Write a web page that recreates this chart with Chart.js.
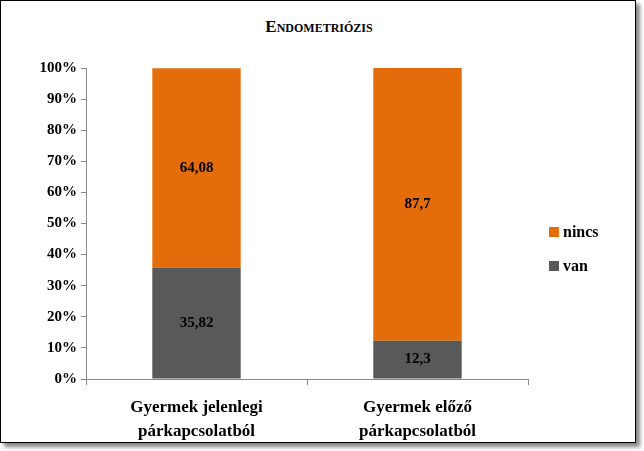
<!DOCTYPE html>
<html><head><meta charset="utf-8">
<script src="https://cdn.jsdelivr.net/npm/chart.js@4"></script>
<style>
body{margin:0;background:#fff;}
#box{position:absolute;left:0;top:0;width:636px;height:443px;border:1px solid #000;box-sizing:border-box;box-shadow:4px 4px 4px #888;background:#fff;}
#title{position:absolute;left:0;width:636px;top:16px;text-align:center;font-family:'Liberation Serif',serif;font-weight:bold;font-size:17px;font-variant:small-caps;}
canvas{position:absolute;left:0;top:0;}
.lg{position:absolute;left:548px;font-family:'Liberation Serif',serif;font-weight:bold;font-size:16px;}
.lg span{display:inline-block;width:10px;height:10px;margin-right:4px;}
</style></head><body>
<div id="box">
<div id="title">Endometriózis</div>
<canvas id="c" width="636" height="443" style="width:636px;height:443px"></canvas>
<div class="lg" style="top:222px"><span style="background:#E46C0A"></span>nincs</div>
<div class="lg" style="top:256px"><span style="background:#595959"></span>van</div>
</div>
<script>
const categories=[['Gyermek jelenlegi','párkapcsolatból'],['Gyermek előző','párkapcsolatból']];
const van=[35.82,12.3];
const nincs=[64.08,87.7];
const yTicks=[0,10,20,30,40,50,60,70,80,90,100];
const F='"Liberation Serif"';
const capsPlugin={id:'caps',
 beforeDraw(c){c.ctx.fontVariantCaps='small-caps';},
 afterDatasetsDraw(c){
  const ctx=c.ctx;ctx.save();ctx.fontVariantCaps='normal';
  ctx.font='bold 15px '+F;ctx.fillStyle='#000';ctx.textAlign='center';ctx.textBaseline='middle';
  c.data.datasets.forEach((ds,i)=>{c.getDatasetMeta(i).data.forEach((b,j)=>{
    const y=(b.y+b.base)/2;ctx.fillText(String(ds.data[j]).replace('.',','),b.x,y);});});
  ctx.restore();}
};
new Chart(document.getElementById('c'),{type:'bar',
 data:{labels:categories,datasets:[
  {label:'van',data:van,backgroundColor:'#595959'},
  {label:'nincs',data:nincs,backgroundColor:'#E46C0A'}]},
 options:{responsive:false,animation:false,devicePixelRatio:1,
  barPercentage:0.4,categoryPercentage:1,
  layout:{padding:{left:0,top:67,right:109,bottom:0}},
  plugins:{legend:{display:false},tooltip:{enabled:false}},
  scales:{
   x:{stacked:true,afterFit(s){s.height=65;},
    grid:{drawOnChartArea:false,offset:true,tickLength:6,color:'#888'},
    border:{color:'#888'},
    ticks:{color:'#000',font:{family:F,size:17,weight:'bold',lineHeight:1.45},padding:10}},
   y:{stacked:true,min:0,max:100,afterFit(s){s.width=85;},
    afterBuildTicks(s){s.ticks=yTicks.map(v=>({value:v}));},
    grid:{drawOnChartArea:false,tickLength:5,color:'#888'},
    border:{color:'#888'},
    ticks:{color:'#000',font:{family:F,size:15,weight:'bold'},callback:v=>v+'%',padding:4}}
  }},
 plugins:[capsPlugin]});
</script></body></html>
